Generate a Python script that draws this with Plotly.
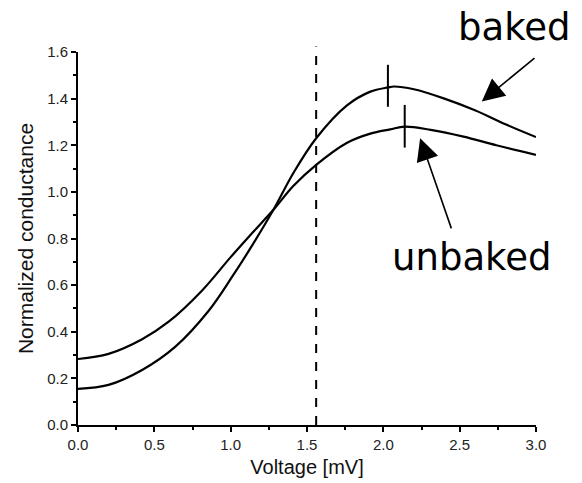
import plotly.graph_objects as go

# Data
baked_x = [0.0, 0.2, 0.42, 0.638, 0.856, 1.01, 1.15, 1.28, 1.41, 1.56, 1.76, 1.915, 2.03, 2.07, 2.2, 2.4, 2.6, 2.8, 3.0]
baked_y = [0.155, 0.172, 0.236, 0.336, 0.49, 0.636, 0.78, 0.923, 1.08, 1.23, 1.37, 1.43, 1.448, 1.452, 1.44, 1.40, 1.35, 1.29, 1.235]

unbaked_x = [0.0, 0.2, 0.42, 0.594, 0.81, 1.0, 1.15, 1.28, 1.41, 1.56, 1.76, 1.915, 2.045, 2.14, 2.31, 2.525, 2.74, 3.0]
unbaked_y = [0.283, 0.305, 0.368, 0.443, 0.575, 0.72, 0.83, 0.923, 1.025, 1.116, 1.21, 1.25, 1.268, 1.28, 1.266, 1.237, 1.20, 1.159]

# Peak markers (x, y_low, y_high)
peak_baked = (2.03, 1.365, 1.545)
peak_unbaked = (2.14, 1.19, 1.373)

# Dashed reference voltage
v_ref = 1.56

x_ticks = [0.0, 0.5, 1.0, 1.5, 2.0, 2.5, 3.0]
x_ticklabels = ["0.0", "0.5", "1.0", "1.5", "2.0", "2.5", "3.0"]
y_ticks = [0.0, 0.2, 0.4, 0.6, 0.8, 1.0, 1.2, 1.4, 1.6]
y_ticklabels = ["0.0", "0.2", "0.4", "0.6", "0.8", "1.0", "1.2", "1.4", "1.6"]

fig = go.Figure()
line_style = dict(color="black", width=2.2, shape="spline", smoothing=1.0)
fig.add_trace(go.Scatter(x=baked_x, y=baked_y, mode="lines", line=line_style, name="baked", showlegend=False))
fig.add_trace(go.Scatter(x=unbaked_x, y=unbaked_y, mode="lines", line=line_style, name="unbaked", showlegend=False))

for px, y0, y1 in (peak_baked, peak_unbaked):
    fig.add_shape(type="line", xref="x", yref="y", x0=px, x1=px, y0=y0, y1=y1,
                  line=dict(color="black", width=2))

fig.add_shape(type="line", xref="x", yref="paper", x0=v_ref, x1=v_ref, y0=0, y1=1.015,
              line=dict(color="black", width=2, dash="dash"))

label_font = dict(family="DejaVu Sans", size=37, color="black")
# label positions in paper coordinates (plot area: x 77.5..536 px, y 52..425 px)
fig.add_annotation(x=0.954, y=1.065, xref="paper", yref="paper", text="baked", showarrow=False,
                   font=label_font, xanchor="center", yanchor="middle")
fig.add_annotation(x=0.860, y=0.448, xref="paper", yref="paper", text="unbaked", showarrow=False,
                   font=label_font, xanchor="center", yanchor="middle")

arrow_style = dict(showarrow=True, arrowhead=2, arrowsize=2.8, arrowwidth=1.6, arrowcolor="black",
                   axref="x", ayref="y", xref="x", yref="y", text="")
fig.add_annotation(x=2.645, y=1.388, ax=3.0, ay=1.579, **arrow_style)
fig.add_annotation(x=2.241, y=1.23, ax=2.449, ay=0.837, **arrow_style)

axis_common = dict(showline=True, linecolor="black", linewidth=2, ticks="outside", ticklen=5,
                   tickwidth=1.5, tickcolor="black", showgrid=False, zeroline=False,
                   tickfont=dict(family="Liberation Sans, Arial", size=15, color="#222"),
                   mirror=False, automargin=False)

fig.update_xaxes(range=[0, 3.0], tickvals=x_ticks, ticktext=x_ticklabels,
                 title=dict(text="Voltage [mV]", font=dict(family="Liberation Sans, Arial", size=20, color="#111"), standoff=8),
                 minor=dict(ticks="outside", ticklen=3, tickwidth=1.5, tickcolor="black", dtick=0.25, tick0=0),
                 **axis_common)
fig.update_yaxes(range=[0, 1.6], tickvals=y_ticks, ticktext=y_ticklabels,
                 title=dict(text="Normalized conductance", font=dict(family="Liberation Sans, Arial", size=21, color="#111"), standoff=8),
                 minor=dict(ticks="outside", ticklen=3, tickwidth=1.5, tickcolor="black", dtick=0.1, tick0=0),
                 **axis_common)

fig.update_layout(width=582, height=483, margin=dict(l=78, r=46, t=52, b=58),
                  plot_bgcolor="white", paper_bgcolor="white", showlegend=False)

fig.write_html("out.html", config={"displayModeBar": False},
               post_script="document.body.style.margin='0';")
